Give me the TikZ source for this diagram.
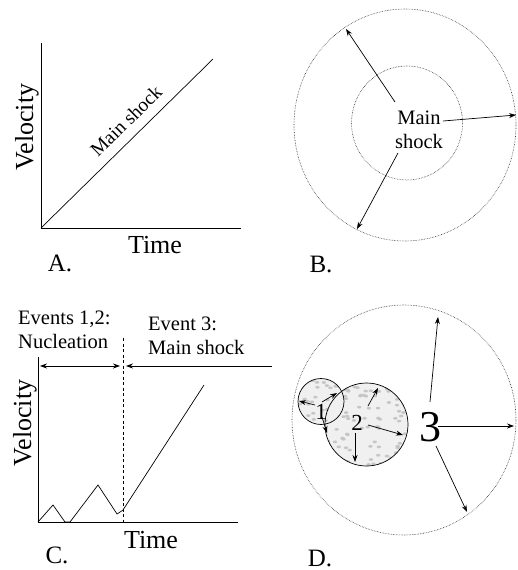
\documentclass[tikz,border=0pt]{standalone}
\usepackage{fontspec}
\setmainfont{Liberation Serif}
\usetikzlibrary{arrows.meta}
\begin{document}
\begin{tikzpicture}[x=1pt,y=-1pt,
  >={Stealth[length=7pt,width=5pt]},
  ax/.style={line width=0.8pt},
  lbl/.style={inner sep=0pt},
  big/.style={font=\fontsize{26}{26}\selectfont},
  mid/.style={font=\fontsize{20.5}{24}\selectfont},
  arr/.style={->, line width=0.7pt},
  dots/.style={densely dotted, line width=0.6pt, black!80}]
\useasboundingbox (0,0) rectangle (517,570);

% ---------- Panel A ----------
\coordinate (oA) at (41,228);
\coordinate (yA) at (41,43);
\coordinate (xA) at (241,228);
\coordinate (eA) at (213,59);
\draw[ax] (yA) -- (oA) -- (xA);
\draw[line width=0.7pt] (oA) -- (eA);
\node[lbl, big, rotate=90] (velA) at (27,127) {Velocity};
\node[lbl, font=\fontsize{19.5}{19.5}\selectfont, rotate=44.5] (msA) at (126,121) {Main shock};
\node[lbl, big] (timeA) at (155,245) {Time};
\node[lbl, font=\fontsize{25}{25}\selectfont] (labA) at (60,263) {A.};

% ---------- Panel B ----------
\coordinate (cB) at (405,125);
\draw[dots] (cB) ellipse [x radius=111, y radius=116];
\draw[dots] (407,123) ellipse [x radius=55.5, y radius=57];
\node[lbl, mid, align=center] (msB) at (419,130) {Main\\shock};
\coordinate (b1s) at (395,102); \coordinate (b1e) at (346,29);
\coordinate (b2s) at (443,121); \coordinate (b2e) at (516,115);
\coordinate (b3s) at (398,153); \coordinate (b3e) at (357,229);
\draw[arr] (b1s) -- (b1e);
\draw[arr] (b2s) -- (b2e);
\draw[arr] (b3s) -- (b3e);
\node[lbl, font=\fontsize{25}{25}\selectfont] (labB) at (321,264) {B.};

% ---------- Panel C ----------
\coordinate (oC) at (38,522);
\coordinate (yC) at (38,357);
\coordinate (xC) at (238,522);
\draw[ax] (yC) -- (oC) -- (xC);
\draw[line width=0.7pt] (oC) -- (53,505) -- (65,522) -- (70,522) -- (98,485) -- (117,514) -- (123,510) -- (204,385);
\coordinate (dTop) at (123,338);
\coordinate (dBot) at (123,522);
\draw[line width=0.6pt, dash pattern=on 3pt off 2.5pt] (dTop) -- (dBot);
\coordinate (h1) at (40,366); \coordinate (h2) at (120,366);
\coordinate (h3) at (126,366); \coordinate (h4) at (272,366);
\draw[<->, line width=0.7pt] (h1) -- (h2);
\draw[<-, line width=0.7pt] (h3) -- (h4);
\node[lbl, mid, align=left, anchor=west] (evC1) at (18,330) {Events 1,2:\\Nucleation};
\node[lbl, mid, align=left, anchor=west] (evC2) at (148,336) {Event 3:\\Main shock};
\node[lbl, big, rotate=90] (velC) at (25,423) {Velocity};
\node[lbl, big] (timeC) at (151,540) {Time};
\node[lbl, font=\fontsize{25}{25}\selectfont] (labC) at (57,555) {C.};

% ---------- Panel D ----------
\draw[dots] (404,420) ellipse [x radius=112, y radius=115];
\coordinate (c1) at (321,401.5);
\coordinate (c2) at (366.5,424.5);
\begin{scope}
  \clip (c1) circle (23) (c2) circle (41.5);
  \fill[gray!12] (290,370) rectangle (420,470);
  \pgfmathsetseed{7}
  \foreach \i in {1,...,130} {
    \fill[gray!45] ({296+114*rnd},{376+92*rnd}) ellipse [x radius=2.2, y radius=1.4];
  }
\end{scope}
\draw[line width=0.7pt] (c1) circle (23);
\draw[line width=0.7pt] (c2) circle (41.5);
\node[lbl, font=\fontsize{23}{23}\selectfont] (n1) at (321,412) {1};
\node[lbl, font=\fontsize{23}{23}\selectfont] (n2) at (357,423) {2};
\node[lbl, font=\fontsize{44}{44}\selectfont] (n3) at (430,427) {3};
% arrows of circle 1
\coordinate (a1s) at (315,405); \coordinate (a1e) at (299,401);
\coordinate (a2s) at (322,402); \coordinate (a2e) at (337,393);
\coordinate (a3s) at (322,417); \coordinate (a3e) at (327,433);
\draw[arr] (a1s) -- (a1e);
\draw[arr] (a2s) -- (a2e);
\draw[arr] (a3s) -- (a3e);
% arrows of circle 2
\coordinate (d1s) at (368,406); \coordinate (d1e) at (378,388);
\coordinate (d2s) at (368,425); \coordinate (d2e) at (403,435);
\coordinate (d3s) at (355,433); \coordinate (d3e) at (355,462);
\draw[arr] (d1s) -- (d1e);
\draw[arr] (d2s) -- (d2e);
\draw[arr] (d3s) -- (d3e);
% arrows of event 3
\coordinate (t1s) at (430,402); \coordinate (t1e) at (438,317);
\coordinate (t2s) at (438,426); \coordinate (t2e) at (514,426);
\coordinate (t3s) at (436,446); \coordinate (t3e) at (467,512);
\draw[arr] (t1s) -- (t1e);
\draw[arr] (t2s) -- (t2e);
\draw[arr] (t3s) -- (t3e);
\node[lbl, font=\fontsize{25}{25}\selectfont] (labD) at (320,558) {D.};
\end{tikzpicture}
\end{document}
